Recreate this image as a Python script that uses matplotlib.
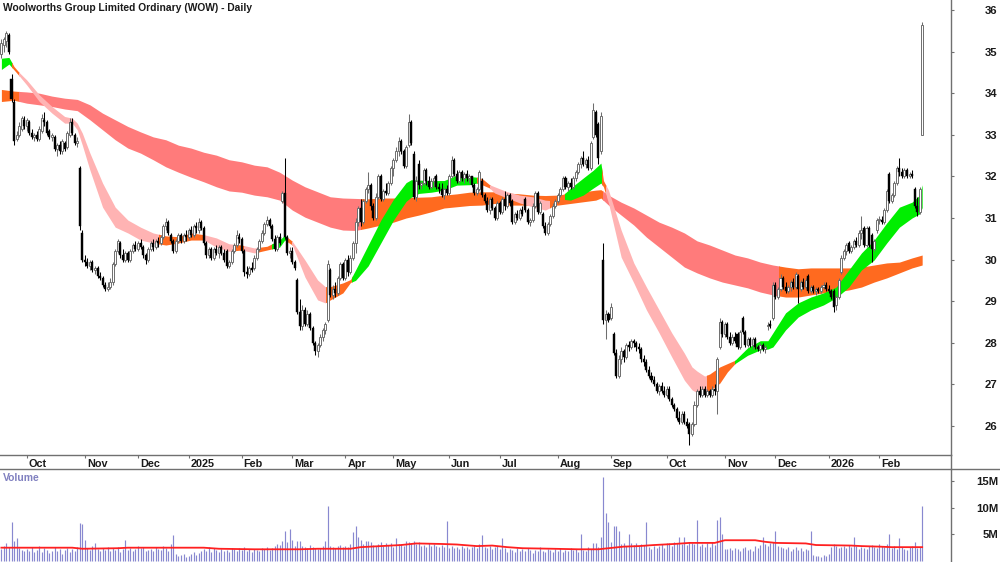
import numpy as np
import matplotlib
matplotlib.use("Agg")
import matplotlib.pyplot as plt
from matplotlib.patches import Rectangle
from matplotlib.lines import Line2D
from matplotlib.transforms import ScaledTranslation

plt.rcParams['font.family'] = ['Liberation Sans', 'DejaVu Sans']

TITLE = "Woolworths Group Limited Ordinary (WOW) - Daily"

# ---------------- data (one entry per trading day, 17 Sep 2024 .. 25 Feb 2026) -------------
opens = [
 34.95,35.15,35.25,35.4,34.35,33.8,32.9,33.0,33.15,33.35,
 33.2,33.3,33.05,32.95,33.0,32.9,33.1,33.35,33.3,33.1,
 32.95,32.95,32.65,32.75,32.6,32.8,32.7,33.0,33.3,33.0,
 32.8,32.2,30.65,30.0,29.95,29.85,29.95,29.75,29.8,29.6,
 29.55,29.4,29.3,29.35,29.45,29.9,30.2,30.4,30.1,30.0,
 30.15,30.0,30.2,30.35,30.25,30.4,30.3,30.1,30.0,30.25,
 30.4,30.3,30.45,30.4,30.55,30.8,30.9,30.6,30.45,30.2,
 30.45,30.6,30.45,30.6,30.55,30.7,30.6,30.8,30.7,30.9,
 30.75,30.4,30.1,30.25,30.05,30.25,30.15,30.3,30.15,30.2,
 29.85,29.95,30.2,30.35,30.55,30.5,30.2,29.7,29.65,29.8,
 29.8,30.05,30.25,30.45,30.65,30.85,30.95,30.8,30.5,30.25,
 30.55,31.4,31.6,30.55,30.15,30.2,29.95,29.5,28.75,28.4,
 28.8,28.45,28.7,28.35,28.0,27.8,27.95,28.15,28.3,28.55,
 29.75,29.15,29.3,29.2,29.55,29.9,29.55,30.0,29.7,30.05,
 30.4,30.9,31.25,30.9,31.4,31.7,31.8,31.3,31.0,31.5,
 32.0,31.45,31.65,31.6,31.85,32.2,32.4,32.6,32.85,32.6,
 32.25,32.75,33.3,32.55,31.5,32.3,31.8,31.85,32.15,31.9,
 31.75,31.9,32.0,31.75,31.7,31.55,31.7,31.6,32.0,32.4,
 32.05,31.9,32.1,31.95,32.05,31.95,32.0,31.8,31.6,31.7,
 31.9,31.55,31.4,31.2,31.45,31.25,31.0,31.35,31.15,31.45,
 31.3,31.55,31.4,30.9,31.1,31.0,31.2,31.45,31.2,30.9,
 30.95,31.3,31.6,31.15,31.1,30.8,30.65,30.85,31.05,31.3,
 31.4,31.55,31.7,31.95,31.75,31.85,31.75,31.95,32.1,32.3,
 32.45,32.3,32.4,32.2,32.95,33.55,33.25,32.6,30.0,28.55,
 28.7,28.6,28.2,27.75,27.2,27.6,27.8,27.65,27.95,27.9,
 28.05,28.0,27.9,27.85,27.6,27.55,27.35,27.2,27.1,27.0,
 26.85,26.95,26.85,26.75,26.9,26.65,26.5,26.4,26.2,26.1,
 26.3,26.1,26.05,25.8,26.05,26.5,26.85,26.75,26.9,26.75,
 26.85,26.75,26.9,26.85,27.9,28.5,28.2,28.45,28.15,28.0,
 28.15,28.2,27.9,28.6,28.25,27.95,28.1,27.95,28.1,27.9,
 27.85,27.95,27.85,28.4,28.45,28.6,29.4,29.1,29.3,29.55,
 29.35,29.25,29.35,29.45,29.35,29.6,29.3,29.45,29.35,29.6,
 29.25,29.35,29.25,29.3,29.25,29.35,29.4,29.3,29.25,29.25,
 28.9,29.1,29.7,30.05,30.2,30.4,30.2,30.3,30.45,30.35,
 30.65,30.75,30.35,30.75,30.6,30.25,30.7,30.95,30.95,30.9,
 31.2,32.05,31.4,31.55,31.85,32.2,32.1,32.0,32.15,32.0,
 32.05,31.7,31.3,31.15,33.0]
highs = [
 35.3,35.35,35.5,35.45,34.45,33.85,33.1,33.3,33.45,33.45,
 33.4,33.35,33.15,33.05,33.1,33.2,33.5,33.55,33.35,33.15,
 33.05,33.0,32.8,32.85,32.9,32.85,33.1,33.4,33.4,33.05,
 32.95,32.25,30.7,30.1,30.05,30.0,30.0,29.85,29.85,29.7,
 29.6,29.45,29.45,29.55,29.95,30.25,30.5,30.45,30.25,30.2,
 30.2,30.25,30.4,30.45,30.45,30.5,30.35,30.15,30.3,30.45,
 30.5,30.5,30.55,30.6,30.85,31.0,30.95,30.65,30.5,30.5,
 30.65,30.65,30.65,30.7,30.75,30.8,30.85,30.9,31.0,30.95,
 30.8,30.45,30.3,30.3,30.3,30.35,30.35,30.35,30.25,30.25,
 30.0,30.25,30.4,30.7,30.65,30.55,30.25,29.85,29.85,29.95,
 30.1,30.3,30.5,30.7,30.9,31.05,31.0,30.85,30.6,30.6,
 30.65,31.65,32.45,30.6,30.3,30.3,30.0,29.55,29.05,28.9,
 28.85,28.8,28.75,28.4,28.05,28.0,28.2,28.35,28.5,30.0,
 29.8,29.4,29.45,29.6,29.95,29.95,30.05,30.1,30.1,30.45,
 31.0,31.3,31.45,31.45,31.75,32.1,31.85,31.35,31.6,32.05,
 32.05,31.7,31.85,31.9,32.25,32.45,32.7,32.95,32.9,32.65,
 32.75,33.5,33.35,32.6,32.0,32.4,31.9,32.2,32.2,32.0,
 31.95,32.0,32.05,31.85,31.85,31.75,31.8,32.05,32.5,32.45,
 32.15,32.15,32.15,32.1,32.15,32.05,32.0,31.85,31.75,32.15,
 31.95,31.6,31.5,31.5,31.5,31.3,31.4,31.4,31.5,31.65,
 31.6,31.6,31.45,31.15,31.2,31.25,31.3,31.5,31.25,31.0,
 31.35,31.65,31.65,31.4,31.15,30.9,30.9,31.1,31.35,31.45,
 31.6,31.75,32.0,32.0,31.9,31.95,32.0,32.15,32.35,32.5,
 32.6,32.45,32.5,32.85,33.77,33.6,33.3,33.55,30.4,28.8,
 28.75,28.95,28.25,27.85,27.7,27.9,27.85,28.0,28.05,28.1,
 28.1,28.05,28.0,27.9,27.7,27.6,27.45,27.3,27.2,27.05,
 27.0,27.05,26.95,26.95,26.95,26.7,26.55,26.45,26.35,26.35,
 26.35,26.2,26.1,26.1,26.6,26.9,26.95,26.95,26.95,26.9,
 26.9,26.95,27.0,27.65,28.6,28.55,28.5,28.5,28.25,28.2,
 28.25,28.25,28.3,28.65,28.3,28.15,28.15,28.15,28.15,27.95,
 28.0,28.0,27.95,28.5,28.55,29.45,29.45,29.35,29.65,29.6,
 29.45,29.4,29.5,29.55,29.7,29.65,29.5,29.55,29.55,29.65,
 29.4,29.4,29.35,29.35,29.4,29.45,29.45,29.4,29.3,29.3,
 29.15,29.55,30.1,30.25,30.4,30.45,30.35,30.5,30.55,30.7,
 31.05,30.8,30.8,30.8,30.65,30.5,31.0,31.05,31.05,31.25,
 31.7,32.1,31.6,31.9,32.25,32.45,32.2,32.2,32.2,32.1,
 32.15,31.75,31.5,31.75,35.7]
lows = [
 34.85,35.0,35.1,34.95,33.8,32.75,32.85,32.95,33.1,33.15,
 33.1,33.0,32.9,32.85,32.85,32.85,33.05,33.2,33.0,32.9,
 32.85,32.6,32.5,32.55,32.55,32.6,32.65,32.95,33.0,32.75,
 32.7,30.7,29.95,29.85,29.8,29.75,29.7,29.65,29.55,29.5,
 29.35,29.25,29.25,29.3,29.4,29.85,30.15,30.05,29.95,29.95,
 29.95,29.95,30.15,30.2,30.2,30.25,30.05,29.9,29.95,30.2,
 30.2,30.25,30.3,30.35,30.5,30.7,30.6,30.4,30.15,30.15,
 30.4,30.4,30.4,30.45,30.5,30.55,30.55,30.65,30.65,30.7,
 30.35,30.05,30.05,30.0,30.0,30.1,30.05,30.1,29.95,29.8,
 29.8,29.9,30.15,30.3,30.4,30.15,29.6,29.55,29.6,29.7,
 29.75,30.0,30.2,30.4,30.6,30.8,30.75,30.45,30.2,30.2,
 30.35,31.35,30.5,30.1,30.05,29.9,29.75,28.7,28.3,28.3,
 28.4,28.4,28.3,27.95,27.7,27.65,27.9,28.05,28.2,28.5,
 29.1,29.05,29.1,29.15,29.5,29.5,29.5,29.6,29.65,30.0,
 30.15,30.8,30.8,30.85,31.35,31.6,31.2,30.95,30.95,31.45,
 31.4,31.4,31.55,31.55,31.8,32.0,32.35,32.5,32.55,32.2,
 32.2,32.7,32.75,31.45,31.4,31.7,31.7,31.8,31.8,31.7,
 31.7,31.75,31.7,31.6,31.5,31.45,31.55,31.55,31.95,32.0,
 31.85,31.85,31.9,31.85,31.9,31.85,31.75,31.55,31.55,31.65,
 31.5,31.35,31.15,31.1,31.2,30.95,30.95,31.1,31.1,31.2,
 31.25,31.3,30.85,30.85,30.95,30.95,31.05,31.15,30.85,30.8,
 30.9,31.25,31.1,31.1,30.75,30.6,30.6,30.8,31.0,31.25,
 31.35,31.5,31.65,31.7,31.65,31.7,31.7,31.9,32.05,32.2,
 32.25,32.2,32.15,32.15,32.9,32.95,32.3,32.55,28.45,28.1,
 28.5,28.55,27.7,27.15,27.15,27.5,27.55,27.6,27.8,27.85,
 27.9,27.8,27.75,27.55,27.45,27.3,27.15,27.05,26.95,26.8,
 26.75,26.8,26.7,26.7,26.6,26.45,26.35,26.15,26.05,26.05,
 26.05,25.95,25.55,25.75,26.0,26.45,26.7,26.7,26.7,26.7,
 26.7,26.7,26.75,26.3,27.85,28.15,28.15,28.1,27.95,27.95,
 28.0,27.85,27.85,28.2,27.9,27.9,27.9,27.85,27.85,27.8,
 27.75,27.8,27.75,28.3,28.35,28.55,29.05,29.05,29.25,29.3,
 29.2,29.2,29.25,29.3,29.3,28.95,29.25,29.3,29.3,29.2,
 29.2,29.2,29.15,29.2,29.2,29.3,29.25,29.2,29.05,28.75,
 28.8,29.05,29.65,30.0,30.1,30.15,30.15,30.25,30.3,30.3,
 30.5,30.3,30.3,30.3,29.95,30.2,30.65,30.85,30.85,30.85,
 31.15,31.35,31.35,31.5,31.8,32.0,31.95,31.95,31.95,31.95,
 31.95,31.25,31.05,31.1,33.0]
closes = [
 35.2,35.3,35.45,35.0,33.85,32.85,33.0,33.2,33.4,33.2,
 33.35,33.05,32.95,33.0,32.9,33.15,33.4,33.3,33.05,32.95,
 33.0,32.65,32.75,32.6,32.85,32.65,33.05,33.3,33.05,32.8,
 32.85,30.8,30.0,29.95,29.85,29.95,29.75,29.8,29.6,29.55,
 29.4,29.3,29.35,29.45,29.9,30.2,30.45,30.1,30.0,30.15,
 30.0,30.2,30.35,30.25,30.4,30.3,30.1,30.0,30.25,30.4,
 30.3,30.45,30.4,30.55,30.8,30.9,30.65,30.45,30.2,30.45,
 30.6,30.45,30.6,30.55,30.7,30.6,30.8,30.75,30.9,30.75,
 30.4,30.1,30.25,30.05,30.25,30.15,30.3,30.15,30.0,29.85,
 29.95,30.2,30.35,30.6,30.5,30.2,29.7,29.65,29.8,29.75,
 30.05,30.25,30.45,30.65,30.85,30.95,30.8,30.5,30.25,30.55,
 30.4,31.6,30.55,30.15,30.2,29.95,29.8,28.75,28.4,28.8,
 28.45,28.7,28.35,28.0,27.8,27.95,28.15,28.3,28.45,29.9,
 29.15,29.3,29.2,29.55,29.9,29.55,30.0,29.7,30.05,30.4,
 30.9,31.25,30.9,31.4,31.7,31.8,31.3,31.0,31.5,32.0,
 31.45,31.65,31.6,31.85,32.2,32.4,32.6,32.85,32.6,32.25,
 32.7,33.3,32.8,31.5,31.9,31.8,31.85,32.15,31.9,31.75,
 31.9,31.95,31.75,31.7,31.55,31.7,31.6,32.0,32.4,32.05,
 31.9,32.1,31.95,32.05,31.95,32.0,31.8,31.6,31.7,32.1,
 31.55,31.4,31.2,31.45,31.25,31.0,31.35,31.15,31.45,31.3,
 31.55,31.35,30.9,31.1,31.0,31.2,31.1,31.2,30.9,30.95,
 31.3,31.6,31.15,31.35,30.8,30.65,30.85,31.05,31.3,31.4,
 31.55,31.7,31.95,31.75,31.85,31.75,31.95,32.1,32.3,32.45,
 32.3,32.4,32.2,32.8,33.6,33.0,32.45,33.45,28.55,28.7,
 28.55,28.85,27.75,27.2,27.6,27.8,27.65,27.95,27.9,28.05,
 28.0,27.9,27.85,27.6,27.55,27.35,27.2,27.1,27.0,26.85,
 26.95,26.85,26.75,26.9,26.65,26.5,26.4,26.2,26.1,26.3,
 26.1,26.0,25.8,26.05,26.5,26.85,26.75,26.9,26.75,26.85,
 26.75,26.9,26.85,27.6,28.5,28.2,28.45,28.15,28.0,28.15,
 28.05,27.9,28.25,28.25,27.95,28.1,27.95,28.1,27.9,27.85,
 27.95,27.85,27.9,28.42,28.4,29.4,29.1,29.3,29.55,29.35,
 29.25,29.35,29.45,29.35,29.65,29.3,29.45,29.35,29.5,29.25,
 29.35,29.25,29.3,29.25,29.35,29.4,29.3,29.25,29.1,28.85,
 29.1,29.5,30.05,30.2,30.35,30.2,30.3,30.45,30.35,30.65,
 30.7,30.35,30.75,30.35,30.25,30.45,30.95,30.95,30.9,31.2,
 31.65,31.4,31.55,31.85,32.2,32.1,32.0,32.15,32.0,32.05,
 32.0,31.3,31.15,31.7,35.65]
volume_m = [
 2.2,2.8,3.4,2.6,7.4,3.7,4.4,2.5,2.0,1.8,
 2.3,1.9,2.6,1.7,2.1,2.9,1.6,2.4,2.0,1.5,
 1.9,2.7,1.8,2.2,1.4,2.0,2.5,1.7,2.3,1.9,
 2.6,7.2,7.0,4.0,2.4,2.1,2.8,3.3,2.2,1.9,
 2.5,2.0,2.7,1.8,2.4,2.1,2.6,1.7,2.3,4.0,
 2.0,2.5,1.8,2.2,2.9,2.4,2.6,1.9,2.1,2.3,
 1.8,2.6,2.2,2.0,2.8,2.4,1.9,3.2,4.8,1.3,
 0.9,1.1,1.4,0.8,1.0,1.3,1.6,1.2,1.5,1.9,
 2.2,1.8,2.6,1.7,2.4,2.0,1.6,2.3,1.9,2.1,
 1.7,2.5,2.2,1.8,2.4,2.0,2.6,1.9,2.2,1.6,
 2.3,2.1,1.8,2.5,2.2,2.6,2.0,2.4,2.9,3.1,
 3.0,3.8,5.6,3.5,6.1,4.0,2.8,3.8,3.8,2.9,
 2.6,2.4,3.0,2.7,2.5,2.2,2.4,2.8,3.8,10.4,
 2.9,2.6,2.4,2.8,3.0,2.6,2.9,2.7,3.1,5.5,
 6.6,4.6,4.0,3.1,3.7,3.8,3.6,3.0,2.8,3.2,
 3.5,2.9,3.3,3.0,3.4,2.7,4.4,3.1,3.2,2.9,
 3.8,3.6,3.4,3.8,3.2,3.5,2.9,3.0,2.7,3.3,
 2.8,3.1,2.9,2.6,3.0,2.7,7.5,2.5,2.8,2.4,
 2.6,2.2,2.9,2.5,2.7,2.3,2.6,2.8,2.5,3.2,
 4.9,2.7,2.4,2.9,2.2,2.6,2.8,2.3,4.4,2.5,
 1.6,2.3,2.0,1.7,2.5,1.9,2.2,1.8,2.4,2.0,
 1.5,2.1,1.8,2.6,1.9,1.6,2.3,2.0,1.7,2.2,
 1.8,2.4,1.6,2.1,1.9,2.5,2.0,2.2,1.7,5.1,
 2.0,1.8,2.6,2.3,3.3,3.3,2.7,4.6,15.8,9.1,
 7.4,3.5,6.5,6.6,5.6,3.2,3.4,2.9,5.1,3.3,
 3.0,3.4,2.8,3.2,3.0,7.3,2.6,2.3,2.9,2.5,
 2.8,3.1,2.4,3.3,3.4,2.9,3.5,3.3,4.6,3.2,
 4.6,3.0,3.6,3.4,3.2,7.7,2.9,3.1,2.7,3.4,
 2.6,3.6,3.0,7.7,8.3,5.0,2.3,2.2,2.4,2.1,
 2.5,2.2,1.9,2.4,2.6,2.0,2.3,1.8,2.8,2.5,
 3.0,4.5,3.2,2.8,3.4,3.6,5.6,2.9,2.6,2.4,
 2.2,2.7,1.9,2.3,2.6,2.1,2.4,1.9,2.2,2.0,
 5.6,1.1,0.9,1.0,0.8,1.2,1.0,1.4,2.6,3.1,
 2.8,2.5,2.7,2.9,2.4,3.0,2.6,4.6,2.8,2.3,
 2.6,2.5,2.2,2.8,3.0,2.7,2.4,3.1,2.9,2.6,
 3.2,5.0,2.5,2.8,2.2,4.4,2.7,2.3,2.0,2.6,
 2.8,3.6,2.4,2.6,10.3]

# moving average of volume (red line), sampled
vol_ma_idx = [0,28,32,46,50,80,86,100,118,125,138,142,150,158,164,174,180,188,194,200,
              206,218,228,236,240,246,252,258,266,272,282,286,298,302,306,318,322,336,340,347,352,364]
vol_ma_val = [2.5,2.5,2.3,2.4,2.5,2.5,2.3,2.2,2.2,2.3,2.3,2.6,2.8,3.0,3.3,3.2,3.1,2.8,2.9,2.6,
              2.4,2.3,2.2,2.2,2.4,2.7,2.8,3.0,3.2,3.4,3.4,3.9,3.9,3.6,3.4,3.3,3.0,2.9,2.8,2.7,2.6,2.6]

# short-term moving-average ribbon (sampled edges)
s_idx = [0,3,5,7,10,15,20,25,28,30,32,35,40,45,50,55,60,65,70,75,80,85,90,95,100,
         105,110,112,115,120,125,128,130,135,138,140,145,150,155,160,162,165,170,175,180,
         185,188,190,193,195,200,205,210,215,217,220,222,225,230,234,237,238,240,245,250,
         255,260,265,270,273,275,278,280,284,287,290,295,300,303,305,310,315,320,325,330,
         335,340,345,350,355,360,363,364]
s_top = [34.84,34.86,34.64,34.50,34.32,33.96,33.68,33.44,33.40,33.28,33.04,32.56,31.84,31.26,30.95,
         30.78,30.64,30.57,30.55,30.64,30.60,30.52,30.38,30.35,30.28,30.32,30.47,30.59,30.44,29.99,
         29.51,29.35,29.35,29.44,29.52,29.75,30.35,30.95,31.45,31.85,31.92,31.91,31.90,31.90,32.03,
         32.00,31.98,31.95,31.80,31.75,31.63,31.55,31.51,31.43,31.42,31.55,31.55,31.72,31.96,32.15,
         32.32,31.90,31.67,30.71,29.92,29.34,28.79,28.24,27.75,27.42,27.32,27.20,27.25,27.42,27.50,
         27.58,27.88,28.05,28.05,28.24,28.72,28.96,29.10,29.20,29.34,29.75,30.16,30.47,30.88,31.26,
         31.38,31.55,31.80]
s_bot = [34.57,34.70,34.56,34.42,34.20,33.80,33.52,33.28,33.28,33.12,32.75,32.15,31.26,30.78,30.64,
         30.47,30.40,30.35,30.40,30.47,30.47,30.30,30.20,30.23,30.16,30.23,30.30,30.47,30.35,29.58,
         29.03,28.96,29.03,29.20,29.45,29.50,29.85,30.40,30.95,31.40,31.50,31.59,31.62,31.67,31.79,
         31.80,31.84,31.80,31.72,31.60,31.48,31.36,31.27,31.19,31.25,31.36,31.45,31.43,31.55,31.72,
         31.84,31.75,31.36,30.06,29.44,28.79,28.24,27.66,27.10,26.87,26.80,26.78,26.85,27.03,27.30,
         27.50,27.70,27.83,27.85,27.90,28.31,28.62,28.79,28.91,29.08,29.34,29.75,29.99,30.40,30.78,
         31.00,31.10,31.25]
s_segments = [(-1, 4, 'G'), (4, 7, 'O'), (7, 62.5, 'P'), (62.5, 80, 'O'), (80, 92, 'P'), (92, 96, 'O'),
              (96, 102, 'P'), (102, 107, 'O'), (107, 113, 'G'), (113, 115, 'O'), (115, 128.5, 'P'),
              (128.5, 138.5, 'O'), (138.5, 188, 'G'), (188, 193, 'O'), (193, 217, 'P'), (217, 223, 'O'),
              (223, 237.5, 'G'), (237.5, 239, 'O'), (239, 279, 'P'), (279, 290, 'O'), (290, 366, 'G')]

# long-term moving-average ribbon (sampled edges)
l_idx = [0,5,10,15,20,25,30,35,40,45,50,55,60,65,70,75,80,85,90,95,100,105,110,115,120,125,130,
         135,140,145,150,155,160,165,170,175,180,185,190,195,200,205,210,215,220,225,230,235,237,
         240,245,250,255,260,265,270,275,280,285,290,295,300,305,310,315,320,325,330,335,340,345,
         350,355,360,364]
l_top = [34.09,34.05,34.03,34.00,33.93,33.88,33.85,33.72,33.52,33.36,33.20,33.07,32.95,32.88,32.75,
         32.68,32.58,32.51,32.40,32.35,32.27,32.23,32.10,31.91,31.75,31.63,31.51,31.48,31.47,31.46,
         31.48,31.48,31.50,31.50,31.51,31.55,31.58,31.62,31.63,31.63,31.60,31.58,31.55,31.54,31.55,
         31.60,31.63,31.67,31.68,31.55,31.38,31.24,31.07,30.90,30.78,30.64,30.45,30.35,30.23,30.11,
         30.04,29.94,29.87,29.82,29.78,29.80,29.80,29.80,29.80,29.82,29.87,29.92,29.94,30.04,30.11]
l_bot = [33.80,33.83,33.76,33.72,33.68,33.62,33.58,33.36,33.12,32.88,32.68,32.56,32.40,32.23,32.10,
         31.98,31.87,31.75,31.65,31.62,31.55,31.51,31.43,31.19,31.02,30.90,30.78,30.71,30.70,30.76,
         30.83,30.90,31.00,31.07,31.15,31.24,31.27,31.30,31.31,31.35,31.31,31.31,31.31,31.30,31.31,
         31.35,31.39,31.43,31.48,31.31,31.07,30.83,30.54,30.30,30.06,29.82,29.68,29.56,29.46,29.39,
         29.32,29.22,29.15,29.10,29.10,29.15,29.20,29.22,29.27,29.34,29.46,29.56,29.68,29.80,29.87]
l_segments = [(-1, 7, 'O'), (7, 142, 'R'), (142, 238, 'O'), (238, 307.5, 'R'), (307.5, 366, 'O')]

month_idx = [10, 33, 54, 74, 95, 115, 136, 155, 177, 197, 220, 241, 263, 286, 306, 327, 347]
month_lbl = ['Oct', 'Nov', 'Dec', '2025', 'Feb', 'Mar', 'Apr', 'May', 'Jun', 'Jul', 'Aug',
             'Sep', 'Oct', 'Nov', 'Dec', '2026', 'Feb']
price_ticks = [26, 27, 28, 29, 30, 31, 32, 33, 34, 35, 36]
vol_ticks = [5, 10, 15]
vol_tick_lbl = ['5M', '10M', '15M']

# ---------------- styling ----------------
COL = {'G': '#00ee00', 'O': '#ff6a1f', 'P': '#ffb3b3', 'R': '#ff7b7b'}
AX_COL = '#707070'
TXT = '#1a1a1a'
VOL_COL = '#8888d0'
FS = 7.3

W, H = 1000, 562
fig = plt.figure(figsize=(W / 100, H / 100), dpi=100)
fig.patch.set_facecolor('white')

axright = 951 / W
ax = fig.add_axes([0, (H - 455) / H, axright, 455 / H])
axv = fig.add_axes([0, 0, axright, (H - 469) / H])

o = np.array(opens); h = np.array(highs); l = np.array(lows); c = np.array(closes)
n = len(c)
x = np.arange(n)
xlim = (-0.55, 375.4)
ylim = (25.303, 36.24)

def draw_band(axis, idx, top, bot, segs, z):
    for s, e, key in segs:
        coll = axis.fill_between(idx, bot, top, color=COL[key], lw=0, zorder=z)
        rect = Rectangle((s, ylim[0]), e - s, ylim[1] - ylim[0], transform=axis.transData)
        coll.set_clip_path(rect)

draw_band(ax, l_idx, l_top, l_bot, l_segments, 1)
draw_band(ax, s_idx, s_top, s_bot, s_segments, 2)

up = c >= o
body_lo = np.minimum(o, c)
body_h = np.maximum(np.abs(c - o), 0.03)
ax.vlines(x[up], l[up], h[up], color='#6e6e6e', lw=0.75, zorder=3)
ax.vlines(x[~up], l[~up], h[~up], color='black', lw=0.75, zorder=3)
ax.bar(x[up], body_h[up], bottom=body_lo[up], width=0.8, color='white',
       edgecolor='#6e6e6e', lw=0.7, zorder=4)
ax.bar(x[~up], body_h[~up], bottom=body_lo[~up], width=0.8, color='black',
       edgecolor='black', lw=0.3, zorder=4)

ax.set_xlim(*xlim)
ax.set_ylim(*ylim)
for sp in ['left', 'top']:
    ax.spines[sp].set_visible(False)
for sp in ['right', 'bottom']:
    ax.spines[sp].set_color(AX_COL)
    ax.spines[sp].set_linewidth(1.0)
ax.yaxis.tick_right()
ax.set_yticks(price_ticks)
ax.set_yticklabels([str(t) for t in price_ticks])
ax.tick_params(axis='y', length=2.2, width=0.8, color=AX_COL, pad=31,
               labelsize=8.2, labelcolor=TXT)
for lab in ax.get_yticklabels():
    lab.set_ha('right')
    lab.set_fontweight('bold')
ax.set_xticks(month_idx)
ax.set_xticklabels(month_lbl)
ax.tick_params(axis='x', length=2.5, width=0.8, color=AX_COL, pad=0.5,
               labelsize=7.8, labelcolor=TXT)
offs = ScaledTranslation(2 / 100, 0, fig.dpi_scale_trans)
for lab in ax.get_xticklabels():
    lab.set_ha('left')
    lab.set_fontweight('bold')
    lab.set_transform(lab.get_transform() + offs)

# volume panel
vol = np.array(volume_m)
axv.vlines(x, 0, vol, color=VOL_COL, lw=0.85, zorder=2)
axv.plot(vol_ma_idx, vol_ma_val, color='#ff2020', lw=1.3, zorder=3)
axv.set_xlim(*xlim)
axv.set_ylim(-0.19, 17.29)
for sp in ['left', 'top', 'bottom']:
    axv.spines[sp].set_visible(False)
axv.spines['right'].set_color(AX_COL)
axv.spines['right'].set_linewidth(1.0)
axv.set_xticks([])
axv.yaxis.tick_right()
axv.set_yticks(vol_ticks)
axv.set_yticklabels(vol_tick_lbl)
axv.tick_params(axis='y', length=2.2, width=0.8, color=AX_COL, pad=32,
                labelsize=8.2, labelcolor=TXT)
for lab in axv.get_yticklabels():
    lab.set_ha('right')
    lab.set_fontweight('bold')

# separators
fig.add_artist(Line2D([0, 1], [(H - 469) / H] * 2, color=AX_COL, lw=1.0))
fig.add_artist(Line2D([axright, axright], [(H - 469) / H, (H - 455) / H], color=AX_COL, lw=1.0))

fig.text(3 / W, 1 - 8 / H, TITLE, fontsize=7.4, fontweight='bold', color=TXT,
         ha='left', va='center')
fig.text(3 / W, 1 - 478 / H, 'Volume', fontsize=7.5, fontweight='bold', color='#8080c0',
         ha='left', va='center')

fig.savefig('out.png', dpi=100, facecolor='white')
